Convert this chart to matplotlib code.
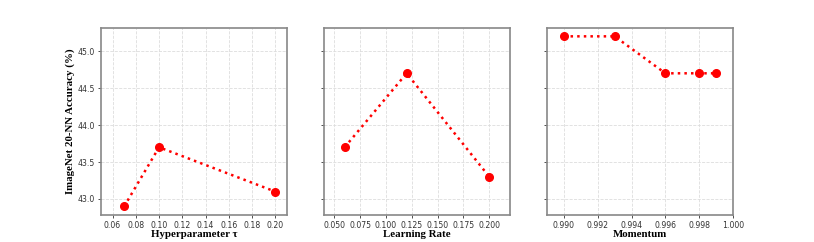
import matplotlib
matplotlib.use("Agg")
import matplotlib.pyplot as plt

# data
tau = [0.07, 0.10, 0.20]
acc_tau = [42.9, 43.7, 43.1]

lr = [0.06, 0.12, 0.20]
acc_lr = [43.7, 44.7, 43.3]

momentum = [0.990, 0.993, 0.996, 0.998, 0.999]
acc_momentum = [45.2, 45.2, 44.7, 44.7, 44.7]

xlabels = ["Hyperparameter \u03c4", "Learning Rate", "Momentum"]
xlims = [(0.05, 0.21), (0.04, 0.22), (0.989, 1.0)]
xticks = [[0.06, 0.08, 0.10, 0.12, 0.14, 0.16, 0.18, 0.20],
          [0.050, 0.075, 0.100, 0.125, 0.150, 0.175, 0.200],
          [0.990, 0.992, 0.994, 0.996, 0.998, 1.000]]
xfmt = ["%.2f", "%.3f", "%.3f"]

fig = plt.figure(figsize=(8.14, 2.42), dpi=100)
lefts = [0.124, 0.398, 0.672]
axes = []
for i, left in enumerate(lefts):
    if i == 0:
        ax = fig.add_axes([left, 0.112, 0.2285, 0.773])
    else:
        ax = fig.add_axes([left, 0.112, 0.2285, 0.773], sharey=axes[0])
    axes.append(ax)

series = [(tau, acc_tau), (lr, acc_lr), (momentum, acc_momentum)]
for i, ax in enumerate(axes):
    x, y = series[i]
    ax.plot(x, y, linestyle=':', color='red', linewidth=1.8,
            marker='o', markersize=5.5, zorder=3)
    ax.set_xlim(*xlims[i])
    ax.set_xticks(xticks[i])
    ax.set_xticklabels([xfmt[i] % v for v in xticks[i]])
    ax.grid(True, linestyle='--', color='#dddddd', linewidth=0.6)
    ax.set_xlabel(xlabels[i], fontsize=7.8, fontweight='bold',
                  family='Liberation Serif', labelpad=0)
    ax.tick_params(labelsize=5.6, length=2.5, width=0.6, colors='#333333', pad=2)
    for s in ax.spines.values():
        s.set_color('#888888')
        s.set_linewidth(1.2)
    if i > 0:
        ax.tick_params(labelleft=False)

axes[0].set_ylabel("ImageNet 20-NN Accuracy (%)", fontsize=7.8, fontweight='bold',
                   family='Liberation Serif', labelpad=2)
axes[0].set_yticks([43.0, 43.5, 44.0, 44.5, 45.0])

fig.savefig("out.png", dpi=100)
